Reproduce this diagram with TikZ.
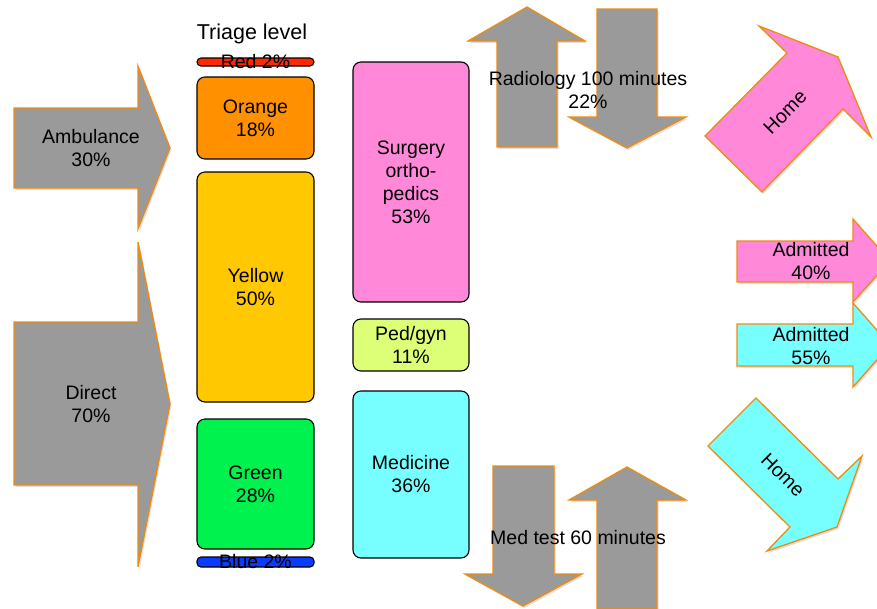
\documentclass[tikz,border=0pt]{standalone}
\usepackage{fontspec}
\setmainfont{Liberation Sans}
\usetikzlibrary{shadows}

\definecolor{flowline}{HTML}{EE8C12}
\definecolor{flowgray}{HTML}{9A9A9A}
\definecolor{triagered}{HTML}{FF2A00}
\definecolor{triageorange}{HTML}{FF9100}
\definecolor{triageyellow}{HTML}{FFC800}
\definecolor{triagegreen}{HTML}{00F24F}
\definecolor{triageblue}{HTML}{0A3CFF}
\definecolor{deptpink}{HTML}{FF88D8}
\definecolor{deptlime}{HTML}{DDFF77}
\definecolor{deptcyan}{HTML}{77FFFF}

\tikzset{
  flowarrow/.style={draw=flowline, line width=1.3pt, line join=miter,
    drop shadow={opacity=0.25, shadow xshift=1.5pt, shadow yshift=-2pt}},
  lbl/.style={align=center, inner sep=0pt, font=\fontsize{19.5}{23}\selectfont},
  levelbox/.style={draw=black, line width=1.1pt, rounded corners=8pt,
    align=center, inner sep=0pt, font=\fontsize{19.5}{23}\selectfont},
  thinbar/.style={draw=black, line width=1.1pt, rounded corners=4pt,
    minimum width=117pt, inner sep=0pt},
}

\begin{document}
\begin{tikzpicture}[x=1pt, y=-1pt]
\useasboundingbox (0,0) rectangle (877,608);
\clip (0,0) rectangle (877,608);

% incoming arrivals
\draw[flowarrow, fill=flowgray] (14,108) -- (138,108) -- (138,66) -- (170,148)
  -- (138,229) -- (138,188) -- (14,188) -- cycle;
\node[lbl] (amb) at (91,148) {Ambulance\\30\%};

\draw[flowarrow, fill=flowgray] (14,322) -- (138,322) -- (138,242) -- (170,404)
  -- (138,567) -- (138,485) -- (14,485) -- cycle;
\node[lbl] (direct) at (91,404) {Direct\\70\%};

% triage column
\node[font=\fontsize{21.5}{25}\selectfont, inner sep=0pt] (title) at (252,34) {Triage level};
\node[thinbar, fill=triagered, minimum height=8pt] (red) at (255.5,62) {};
\node[lbl] (redtxt) at (red.center) {Red 2\%};
\node[levelbox, fill=triageorange, minimum width=117pt, minimum height=82pt]
  (orange) at (255.5,118) {Orange\\18\%};
\node[levelbox, fill=triageyellow, minimum width=117pt, minimum height=230pt]
  (yellow) at (255.5,287) {Yellow\\50\%};
\node[levelbox, fill=triagegreen, minimum width=117pt, minimum height=130pt]
  (green) at (255.5,484) {Green\\28\%};
\node[thinbar, fill=triageblue, minimum height=10pt] (blue) at (255.5,562) {};
\node[lbl] (bluetxt) at (blue.center) {Blue 2\%};

% departments
\node[levelbox, fill=deptpink, minimum width=116pt, minimum height=240pt]
  (surgery) at (411,182) {Surgery\\ortho-\\pedics\\53\%};
\node[levelbox, fill=deptlime, minimum width=116pt, minimum height=52pt]
  (pedgyn) at (411,345) {Ped/gyn\\11\%};
\node[levelbox, fill=deptcyan, minimum width=116pt, minimum height=167pt]
  (medicine) at (411,474.5) {Medicine\\36\%};

% radiology round trip
\draw[flowarrow, fill=flowgray] (527,7) -- (585,41) -- (557,41) -- (557,147)
  -- (497,147) -- (497,41) -- (468,41) -- cycle;
\draw[flowarrow, fill=flowgray] (597,9) -- (657,9) -- (657,117) -- (686,117)
  -- (627,148) -- (569,117) -- (597,117) -- cycle;
\node[lbl] (radiology) at (588,90) {Radiology 100 minutes\\22\%};

% medical tests round trip
\draw[flowarrow, fill=flowgray] (493,466) -- (554,466) -- (554,574) -- (582,574)
  -- (523,606) -- (465,574) -- (493,574) -- cycle;
\draw[flowarrow, fill=flowgray] (627,467) -- (686,500) -- (657,500) -- (657,609)
  -- (597,609) -- (597,500) -- (569,500) -- cycle;
\node[lbl] (medtest) at (578,538) {Med test 60 minutes};

% outcomes
\draw[flowarrow, fill=deptpink] (759,26) -- (838,57) -- (871,137) -- (843,109)
  -- (762,192) -- (705,136) -- (787,53) -- cycle;
\node[lbl, rotate=45] (homeA) at (785,112) {Home};

\draw[flowarrow, fill=deptpink] (737,241) -- (853,241) -- (853,219) -- (890,261)
  -- (853,302) -- (853,282) -- (737,282) -- cycle;
\node[lbl] (admA) at (811,261) {Admitted\\40\%};

\draw[flowarrow, fill=deptcyan] (737,324) -- (853,324) -- (853,303) -- (890,345)
  -- (853,387) -- (853,366) -- (737,366) -- cycle;
\node[lbl] (admB) at (811,346) {Admitted\\55\%};

\draw[flowarrow, fill=deptcyan] (756,398) -- (838,479) -- (862,456) -- (837,527)
  -- (767,551) -- (790,527) -- (708,446) -- cycle;
\node[lbl, rotate=-45] (homeB) at (783,475) {Home};
\end{tikzpicture}
\end{document}
